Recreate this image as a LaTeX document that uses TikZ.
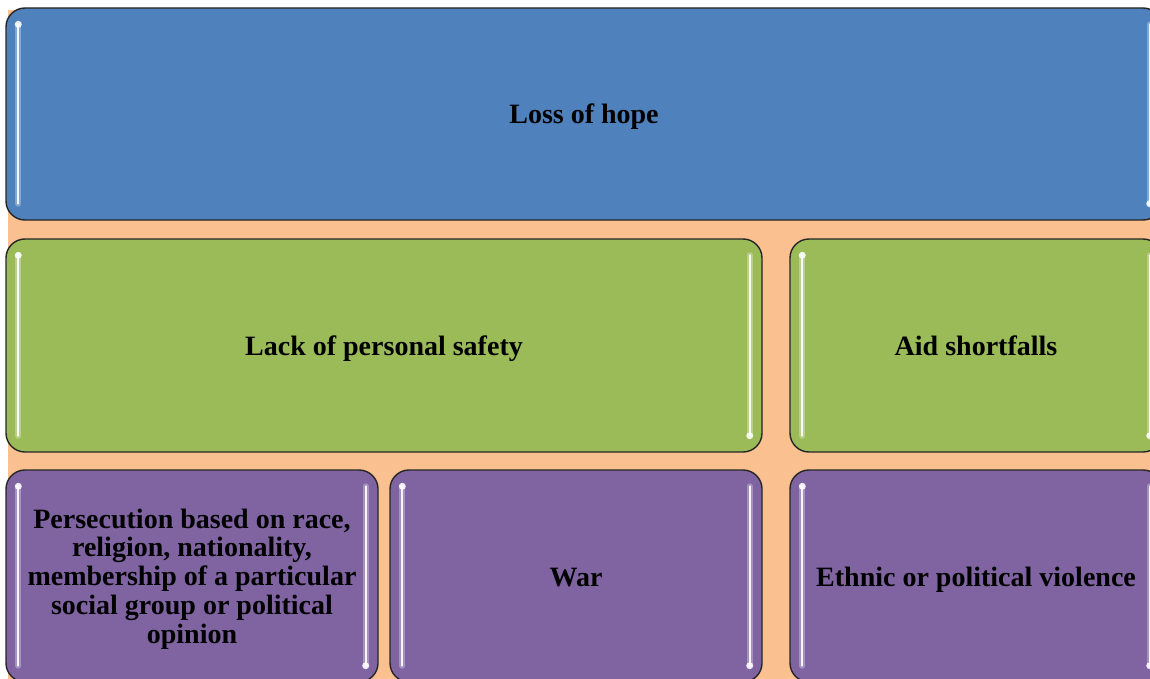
\documentclass[tikz,border=0pt]{standalone}
\usepackage{fontspec}
\setmainfont{Liberation Serif}
\definecolor{cblue}{HTML}{4F81BD}
\definecolor{cgreen}{HTML}{9BBB59}
\definecolor{cpurple}{HTML}{8064A2}
\definecolor{cpeach}{HTML}{FAC090}
\begin{document}
\begin{tikzpicture}[x=1pt,y=-1pt,
  box/.style={draw=black!85, line width=1.4pt, rounded corners=19pt, inner sep=0pt,
    font=\bfseries\fontsize{28}{28.8}\selectfont, align=center},
  oneline/.style={text height=20pt, text depth=0pt},
  hlglow/.style={draw=white, line width=6pt, opacity=0.3, line cap=round},
  hlcore/.style={draw=white, line width=2pt, opacity=0.9, line cap=round},
  hldot/.style={fill=white, opacity=0.85}]
\useasboundingbox (0,0) rectangle (1150,679);
\clip (0,0) rectangle (1150,679);
\fill[cpeach] (8,10) rectangle (1150,679);
\node[box, oneline, fill=cblue, minimum width=1156pt, minimum height=212pt] (hope) at (584,114) {Loss of hope};
\node[box, oneline, fill=cgreen, minimum width=756pt, minimum height=213pt] (safety) at (384,345.5) {Lack of personal safety};
\node[box, oneline, fill=cgreen, minimum width=372pt, minimum height=213pt] (aid) at (976,345.5) {Aid shortfalls};
\node[box, fill=cpurple, minimum width=372pt, minimum height=212pt] (pers) at (192,576) {};
\node[font=\bfseries\fontsize{28}{28.8}\selectfont, align=center, inner sep=0pt] (perstext) at (192,579) {Persecution based on race,\\religion, nationality,\\membership of a particular\\social group or political\\opinion};
\node[box, oneline, fill=cpurple, minimum width=372pt, minimum height=212pt] (war) at (576,576) {War};
\node[box, oneline, fill=cpurple, minimum width=372pt, minimum height=212pt] (ethnic) at (976,576) {Ethnic or political violence};
\foreach \n in {hope,safety,aid,pers,war,ethnic}{
  \coordinate (\n-lt) at ([xshift=13pt,yshift=-17pt]\n.north west);
  \coordinate (\n-lb) at ([xshift=13pt,yshift=17pt]\n.south west);
  \coordinate (\n-rt) at ([xshift=-13pt,yshift=-17pt]\n.north east);
  \coordinate (\n-rb) at ([xshift=-13pt,yshift=17pt]\n.south east);
  \draw[hlglow] (\n-lt) -- (\n-lb);
  \draw[hlcore] (\n-lt) -- (\n-lb);
  \draw[hlglow] (\n-rt) -- (\n-rb);
  \draw[hlcore] (\n-rt) -- (\n-rb);
  \fill[hldot] (\n-lt) circle (3.5pt);
  \fill[hldot] (\n-rb) circle (3.5pt);
}
\end{tikzpicture}
\end{document}
